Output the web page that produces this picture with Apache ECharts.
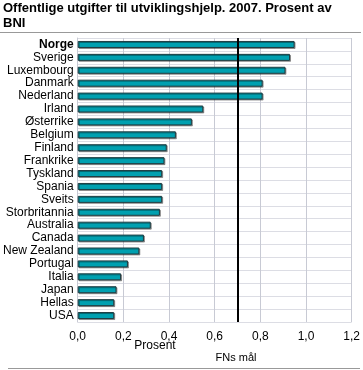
<!DOCTYPE html>
<html>
<head>
<meta charset="utf-8">
<script src="https://cdn.jsdelivr.net/npm/echarts@6/dist/echarts.min.js"></script>
<style>
html,body{margin:0;padding:0;background:#fff;}
#c{width:363px;height:370px;}
</style>
</head>
<body>
<div id="c"></div>
<script>
var categories = ['Norge','Sverige','Luxembourg','Danmark','Nederland','Irland','Østerrike','Belgium','Finland','Frankrike','Tyskland','Spania','Sveits','Storbritannia','Australia','Canada','New Zealand','Portugal','Italia','Japan','Hellas','USA'];
var values = [0.95,0.93,0.91,0.81,0.81,0.55,0.50,0.43,0.39,0.38,0.37,0.37,0.37,0.36,0.32,0.29,0.27,0.22,0.19,0.17,0.16,0.16];
var xTicks = [0,0.2,0.4,0.6,0.8,1.0,1.2];
var targetValue = 0.7;
var titleText = 'Offentlige utgifter til utviklingshjelp. 2007. Prosent av\nBNI';
var xName = 'Prosent';
var targetName = 'FNs mål';

var chart = echarts.init(document.getElementById('c'), null, {renderer:'canvas'});
var font = 'Liberation Sans, Arial, sans-serif';
chart.setOption({
  animation:false,
  title:{text:titleText,left:3,top:1,padding:0,textStyle:{fontFamily:font,fontSize:13,fontWeight:'bold',color:'#000',lineHeight:15}},
  grid:{left:76,right:11,top:38,bottom:48,containLabel:false},
  xAxis:{type:'value',min:xTicks[0],max:xTicks[xTicks.length-1],interval:0.2,
    axisLine:{show:false},axisTick:{show:false},
    axisLabel:{margin:9,fontFamily:font,fontSize:12,color:'#000',formatter:function(v){return v.toFixed(1).replace('.',',');}},
    splitLine:{show:true,lineStyle:{color:'#c8cad4',width:1}}},
  yAxis:{type:'category',data:categories,inverse:true,
    axisLine:{show:true,lineStyle:{color:'#c8cad4'}},axisTick:{show:false},
    axisLabel:{interval:0,margin:4,fontFamily:font,fontSize:12,color:'#000',
      formatter:function(v,i){return i===0?'{b|'+v+'}':v;},
      rich:{b:{fontWeight:'bold',fontFamily:font,fontSize:12,color:'#000'}}},
    splitLine:{show:true,interval:0,lineStyle:{color:'#dcdde4',width:1}}},
  series:[{type:'bar',data:values,barWidth:7,
    itemStyle:{color:'#00a0b0',borderColor:'#1e3c40',borderWidth:1,shadowColor:'rgba(0,0,0,0.35)',shadowOffsetX:1,shadowOffsetY:1,shadowBlur:0},
    markLine:{silent:true,symbol:'none',label:{show:false},lineStyle:{color:'#000',width:2,type:'solid'},data:[{xAxis:targetValue}]}
  }],
  graphic:[
    {type:'line',shape:{x1:0,y1:32.5,x2:361,y2:32.5},style:{stroke:'#999',lineWidth:1}},
    {type:'line',shape:{x1:8,y1:368.5,x2:360,y2:368.5},style:{stroke:'#999',lineWidth:1}},
    {type:'text',x:155,y:340,style:{text:xName,textAlign:'center',font:'12px '+font,fill:'#000'}},
    {type:'text',x:236,y:352,style:{text:targetName,textAlign:'center',font:'11px '+font,fill:'#000'}}
  ]
});
</script>
</body>
</html>
